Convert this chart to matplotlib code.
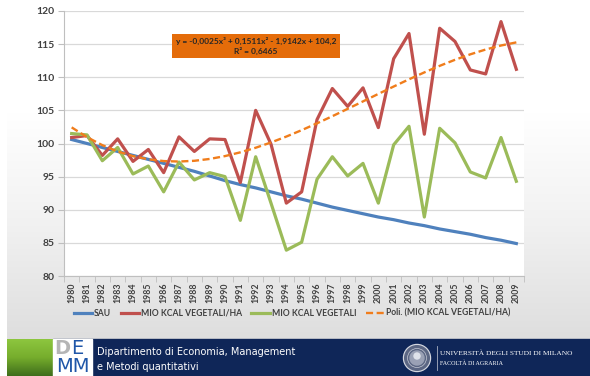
import matplotlib.pyplot as plt
import numpy as np
from matplotlib.colors import LinearSegmentedColormap
from matplotlib.patches import Circle, Rectangle

# ---------------------------------------------------------------------------
# Data (1980-2009)
# ---------------------------------------------------------------------------

years = [str(y) for y in range(1980, 2010)]

sau = [100.6, 100.0, 99.4, 98.8, 98.2, 97.6, 97.0, 96.4, 95.8, 95.1,
       94.4, 93.8, 93.3, 92.7, 92.1, 91.6, 91.0, 90.4, 89.9, 89.4,
       88.9, 88.5, 88.0, 87.6, 87.1, 86.7, 86.3, 85.8, 85.4, 84.9]

kcal_ha = [100.9, 101.2, 98.2, 100.7, 97.3, 99.1, 95.6, 101.0, 98.8, 100.7,
           100.6, 94.1, 105.0, 99.9, 91.0, 92.7, 103.6, 108.3, 105.6, 108.4,
           102.4, 112.8, 116.6, 101.4, 117.4, 115.4, 111.1, 110.5, 118.4, 111.2]

kcal = [101.5, 101.3, 97.4, 99.4, 95.4, 96.6, 92.7, 97.2, 94.5, 95.6,
        95.0, 88.4, 98.0, 91.0, 83.9, 85.1, 94.6, 98.0, 95.1, 97.0,
        91.0, 99.8, 102.6, 88.9, 102.3, 100.1, 95.7, 94.8, 100.9, 94.3]

# cubic trend on MIO KCAL VEGETALI/HA, x = 1..30
trend_coef = [-0.0025, 0.1511, -1.9142, 104.2]
trend_r2 = 0.6465

# ---------------------------------------------------------------------------
# Style
# ---------------------------------------------------------------------------

BLUE   = "#4f81bd"
RED    = "#c0504d"
GREEN  = "#9bbb59"
ORANGE = "#f07d1c"
BOX    = "#e46c0a"
TEXT   = "#404040"
GRID   = "#d9d9d9"
NAVY   = "#0f2658"
LOGO   = "#1f56a8"

W, H = 590, 376
plt.rcParams["font.family"] = ["Lato", "DejaVu Sans"]

fig = plt.figure(figsize=(W / 100, H / 100), dpi=100, facecolor="white")

# background canvas in pixel coordinates
bg = fig.add_axes([0, 0, 1, 1])
bg.set_xlim(0, W)
bg.set_ylim(H, 0)
bg.axis("off")

grad = LinearSegmentedColormap.from_list("g", ["#ffffff", "#ffffff", "#f1f1f1", "#dedede"])
bg.imshow(np.linspace(0, 1, 256)[:, None], cmap=grad, aspect="auto",
          extent=(7, W, 339, 0), zorder=0)

# ---- footer band ----
bg.add_patch(Rectangle((53, 339), W - 53, H - 339, color=NAVY, zorder=1))
green = LinearSegmentedColormap.from_list("gr", ["#8dc63f", "#76ad2c", "#3f6e1c"])
bg.imshow(np.linspace(0, 1, 64)[:, None], cmap=green, aspect="auto",
          extent=(7, 53, H, 339), zorder=1)

# DEMM logo
bg.add_patch(Rectangle((53, 339), 39, H - 339, color="white", zorder=2))
bg.text(54, 348.5, "D", color="#b5b5b5", fontsize=14, fontweight="bold",
        family="DejaVu Sans", va="center", ha="left", zorder=3)
bg.text(71, 348.5, "E", color=LOGO, fontsize=14,
        family="DejaVu Sans", va="center", ha="left", zorder=3)
bg.text(72.5, 367, "MM", color=LOGO, fontsize=14,
        family="DejaVu Sans", va="center", ha="center", zorder=3)

bg.text(97, 352, "Dipartimento di Economia, Management", color="white",
        fontsize=7, family="DejaVu Sans", va="center", zorder=3)
bg.text(97, 367, "e Metodi quantitativi", color="white",
        fontsize=7, family="DejaVu Sans", va="center", zorder=3)

# university seal
bg.add_patch(Circle((417, 358), 13.5, color="#d4d7e0", zorder=3))
bg.add_patch(Circle((417, 358), 12.3, color="#5b6683", zorder=3))
bg.add_patch(Circle((417, 358), 9.5, fill=False, ec="#c4c8d4", lw=0.5, zorder=3))
bg.add_patch(Circle((417, 358), 7.0, color="#9aa1b5", zorder=3))
bg.add_patch(Circle((417, 356), 3.0, color="#dfe2ea", zorder=3))
bg.plot([437, 437], [346, 370], color="#aab0c2", lw=0.6, zorder=3)
bg.text(440, 353, "UNIVERSITÀ DEGLI STUDI DI MILANO", color="white",
        fontsize=5.3, family="Liberation Serif", va="center", zorder=3)
bg.text(440, 363, "FACOLTÀ DI AGRARIA", color="white",
        fontsize=4.3, family="Liberation Serif", va="center", zorder=3)

# ---------------------------------------------------------------------------
# Chart
# ---------------------------------------------------------------------------

ax = fig.add_axes([64 / W, 1 - 276 / H, 460 / W, 265 / H])
ax.set_facecolor("white")
x = np.arange(len(years))

ax.plot(x, sau, color=BLUE, lw=2.3, label="SAU", zorder=3)
ax.plot(x, kcal_ha, color=RED, lw=2.3, label="MIO KCAL VEGETALI/HA", zorder=3)
ax.plot(x, kcal, color=GREEN, lw=2.3, label="MIO KCAL VEGETALI", zorder=3)
trend = np.polyval(trend_coef, x + 1)
ax.plot(x, trend, color=ORANGE, lw=1.7, ls=(0, (3, 1.5)),
        label="Poli. (MIO KCAL VEGETALI/HA)", zorder=4)

ax.set_xlim(-0.5, len(years) - 0.5)
ax.set_ylim(80, 120)
ax.set_yticks(range(80, 121, 5))
ax.set_xticks(x)
ax.set_xticklabels(years, rotation=90)
ax.set_xticks(np.arange(-0.5, len(years), 1), minor=True)
ax.tick_params(axis="x", which="major", length=0, pad=5)
ax.tick_params(axis="x", which="minor", length=4, color="#bfbfbf")
ax.tick_params(axis="y", length=4, color="#bfbfbf", pad=3)
for lab in ax.get_xticklabels():
    lab.set(fontsize=6.3, fontweight="bold", color=TEXT)
for lab in ax.get_yticklabels():
    lab.set(fontsize=7.5, fontweight="bold", color=TEXT)

ax.grid(axis="y", color=GRID, lw=0.9, zorder=0)
for side in ["top", "right"]:
    ax.spines[side].set_visible(False)
for side in ["left", "bottom"]:
    ax.spines[side].set_color("#bfbfbf")
    ax.spines[side].set_linewidth(0.8)

eq = (f"y = {trend_coef[0]:.4f}x³ + {trend_coef[1]:.4f}x² - {abs(trend_coef[2]):.4f}x + "
      f"{trend_coef[3]:.1f}\nR² = {trend_r2:.4f}").replace(".", ",")
fig.text(256 / W, 1 - 46 / H, eq, ha="center", va="center", fontsize=6.0,
         fontweight="bold", color="#262626", linespacing=1.3,
         bbox=dict(boxstyle="square,pad=0.4", fc=BOX, ec="none"), zorder=5)

ax.legend(loc="center", bbox_to_anchor=(292 / W, 1 - 313 / H),
          bbox_transform=fig.transFigure, ncol=4, frameon=False,
          handlelength=2.1, columnspacing=1.1, handletextpad=0.25,
          prop=dict(weight="bold", size=6.2), labelcolor=TEXT)

fig.savefig("out.png", dpi=100, facecolor="white")
